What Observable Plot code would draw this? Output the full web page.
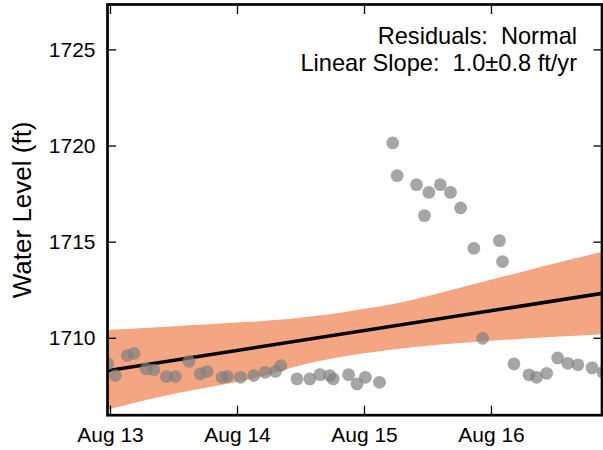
<!DOCTYPE html>
<html>
<head>
<meta charset="utf-8">
<script src="https://cdn.jsdelivr.net/npm/d3@7"></script>
<script src="https://cdn.jsdelivr.net/npm/@observablehq/plot@0.6"></script>
<style>
  html, body { margin: 0; padding: 0; background: #fff; }
  svg text { white-space: pre; }
</style>
</head>
<body>
<div id="chart"></div>
<script>
// Observations (time, water level in ft)
const times = [
  "2014-08-12T23:30Z","2014-08-13T00:55Z","2014-08-13T03:10Z","2014-08-13T04:25Z","2014-08-13T06:45Z",
  "2014-08-13T08:10Z","2014-08-13T10:35Z","2014-08-13T12:15Z","2014-08-13T14:50Z","2014-08-13T16:55Z",
  "2014-08-13T18:15Z","2014-08-13T21:05Z","2014-08-13T22:05Z","2014-08-14T00:35Z","2014-08-14T03:05Z",
  "2014-08-14T05:15Z","2014-08-14T07:10Z","2014-08-14T08:10Z","2014-08-14T11:15Z","2014-08-14T13:40Z",
  "2014-08-14T15:35Z","2014-08-14T17:25Z","2014-08-14T18:05Z","2014-08-14T21:00Z","2014-08-14T22:35Z",
  "2014-08-15T00:10Z","2014-08-15T02:50Z","2014-08-15T05:20Z","2014-08-15T06:10Z","2014-08-15T09:50Z",
  "2014-08-15T11:20Z","2014-08-15T12:10Z","2014-08-15T14:20Z","2014-08-15T16:15Z","2014-08-15T18:10Z",
  "2014-08-15T20:40Z","2014-08-15T22:20Z","2014-08-16T01:30Z","2014-08-16T02:05Z","2014-08-16T04:15Z",
  "2014-08-16T07:05Z","2014-08-16T08:30Z","2014-08-16T10:25Z","2014-08-16T12:30Z","2014-08-16T14:25Z",
  "2014-08-16T16:20Z","2014-08-16T19:00Z","2014-08-16T21:05Z"
];
const levels = [
  1708.67,1708.06,1709.10,1709.22,1708.41,
  1708.36,1708.01,1708.01,1708.80,1708.15,
  1708.27,1707.97,1708.01,1707.97,1708.06,
  1708.23,1708.28,1708.58,1707.89,1707.89,
  1708.11,1708.06,1707.89,1708.11,1707.63,
  1707.97,1707.71,1720.16,1718.46,1717.99,
  1716.38,1717.59,1717.99,1717.59,1716.78,
  1714.68,1710.00,1715.08,1713.99,1708.67,
  1708.10,1707.97,1708.18,1708.98,1708.70,
  1708.62,1708.46,1708.23
];

// Linear fit and its confidence band
const fitTimes = ["2014-08-12T23:20Z","2014-08-16T21:00Z"];
const fitLevels = [1708.31, 1712.34];
const bandTimes = [
  "2014-08-12T23:20Z","2014-08-13T12:20Z","2014-08-14T02:20Z","2014-08-14T11:00Z","2014-08-14T19:30Z",
  "2014-08-15T04:20Z","2014-08-15T12:30Z","2014-08-16T04:40Z","2014-08-16T21:00Z"
];
const bandUpper = [1710.40,1710.60,1710.83,1711.02,1711.30,1711.70,1712.20,1713.35,1714.47];
const bandLower = [1706.24,1707.10,1707.85,1708.50,1709.00,1709.35,1709.60,1709.93,1710.19];

// Axes
const xDomain = ["2014-08-12T23:26Z","2014-08-16T20:53Z"];
const yDomain = [1706.0, 1727.36];
const xTicks = ["2014-08-13T00:00Z","2014-08-14T00:00Z","2014-08-15T00:00Z","2014-08-16T00:00Z"];
const yTicks = [1710, 1715, 1720, 1725];
const yLabel = "Water Level (ft)";
const annotation = ["Residuals:  Normal", "Linear Slope:  1.0\u00b10.8 ft/yr"];

const pts = times.map((t, i) => ({t: new Date(t), v: levels[i]}));
const fit = fitTimes.map((t, i) => ({t: new Date(t), v: fitLevels[i]}));
const band = bandTimes.map((t, i) => ({t: new Date(t), hi: bandUpper[i], lo: bandLower[i]}));
const xt = xTicks.map(d => new Date(d));

const chart = Plot.plot({
  width: 603,
  height: 450,
  marginLeft: 107,
  marginRight: 1.5,
  marginTop: 4,
  marginBottom: 35.3,
  style: {fontFamily: "'Liberation Sans', Arial, sans-serif", background: "#fff", color: "#000"},
  x: {type: "utc", domain: xDomain.map(d => new Date(d))},
  y: {domain: yDomain},
  marks: [
    Plot.areaY(band, {x: "t", y1: "lo", y2: "hi", fill: "#f4a582", curve: "natural", clip: true}),
    Plot.line(fit, {x: "t", y: "v", stroke: "black", strokeWidth: 3.6, clip: true}),
    Plot.dot(pts, {x: "t", y: "v", r: 6.4, fill: "gray", fillOpacity: 0.7, stroke: "none", clip: true}),
    // tick labels
    Plot.axisY(yTicks, {anchor: "left", tickSize: 0, tickPadding: 12, fontSize: 21, label: null, tickFormat: d3.format("d")}),
    Plot.axisX(xt, {anchor: "bottom", tickSize: 0, tickPadding: 12, fontSize: 21, label: null, tickFormat: d3.utcFormat("%b %d")}),
    // inward ticks
    Plot.axisY(yTicks, {anchor: "left", tickSize: 9, dx: 9, text: null, label: null, strokeWidth: 1.3}),
    Plot.axisY(yTicks, {anchor: "right", tickSize: 9, dx: -9, text: null, label: null, strokeWidth: 1.3}),
    Plot.axisX(xt, {anchor: "bottom", tickSize: 9, dy: -9, text: null, label: null, strokeWidth: 1.3}),
    Plot.axisX(xt, {anchor: "top", tickSize: 9, dy: 9, text: null, label: null, strokeWidth: 1.3}),
    Plot.frame({stroke: "black", strokeWidth: 2.7}),
    Plot.text([annotation.join("\n")], {frameAnchor: "top-right", textAnchor: "end", lineAnchor: "top", dx: -25, dy: 21, fontSize: 23.6, lineHeight: 1.13, fill: "black"}),
    Plot.text([yLabel], {frameAnchor: "left", rotate: -90, dx: -85, fontSize: 26, fill: "black", textAnchor: "middle", lineAnchor: "middle"})
  ]
});
document.getElementById("chart").appendChild(chart);
</script>
</body>
</html>
